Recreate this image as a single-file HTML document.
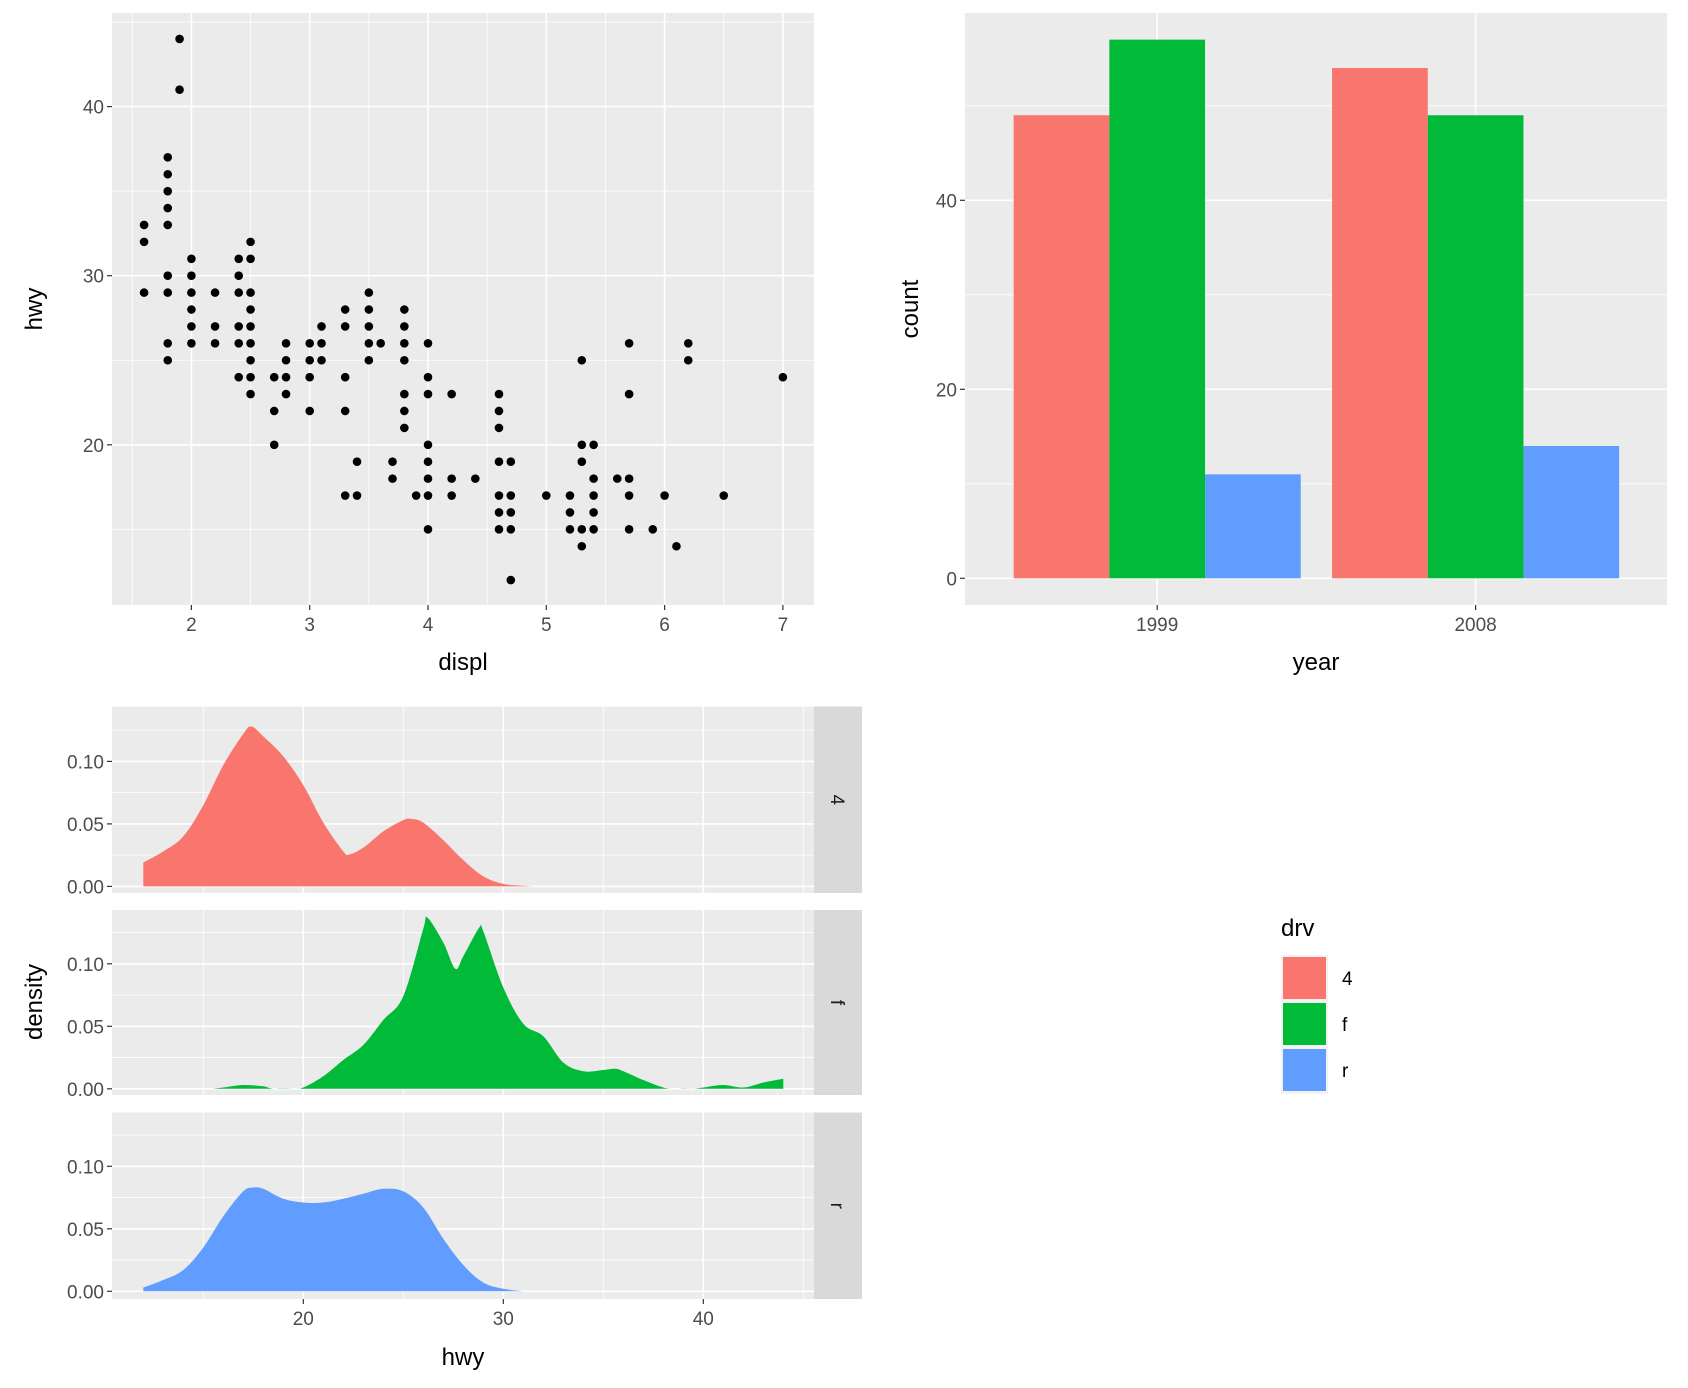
<!DOCTYPE html>
<html><head><meta charset="utf-8"><style>
body{margin:0;background:#fff}
svg{display:block;font-family:"Liberation Sans",Arial,sans-serif}
</style></head><body>
<svg id="c" width="1688" height="1388" viewBox="0 0 1688 1388" xmlns="http://www.w3.org/2000/svg"></svg>
<script>
// ---- scatter data ----
const scatterDispl = [1.6,1.6,1.6,1.8,1.8,1.8,1.8,1.8,1.8,1.8,1.8,1.8,1.9,1.9,2,2,2,2,2,2,2.2,2.2,2.2,2.4,2.4,2.4,2.4,2.4,2.4,2.5,2.5,2.5,2.5,2.5,2.5,2.5,2.5,2.5,2.7,2.7,2.7,2.8,2.8,2.8,2.8,3,3,3,3,3.1,3.1,3.1,3.3,3.3,3.3,3.3,3.3,3.4,3.4,3.5,3.5,3.5,3.5,3.5,3.6,3.7,3.7,3.8,3.8,3.8,3.8,3.8,3.8,3.8,3.9,4,4,4,4,4,4,4,4,4.2,4.2,4.2,4.4,4.6,4.6,4.6,4.6,4.6,4.6,4.6,4.7,4.7,4.7,4.7,4.7,5,5.2,5.2,5.2,5.3,5.3,5.3,5.3,5.3,5.4,5.4,5.4,5.4,5.4,5.6,5.7,5.7,5.7,5.7,5.7,5.9,6,6.1,6.2,6.2,6.5,7];
const scatterHwy = [33,32,29,37,36,35,34,33,30,29,26,25,44,41,31,30,29,28,27,26,29,27,26,31,30,29,27,26,24,32,31,29,28,27,26,25,24,23,24,22,20,26,25,24,23,26,25,24,22,27,26,25,28,27,24,22,17,19,17,29,28,27,26,25,26,19,18,28,27,26,25,23,22,21,17,26,24,23,20,19,18,17,15,23,18,17,18,23,22,21,19,17,16,15,19,17,16,15,12,17,17,16,15,25,20,19,15,14,20,18,17,16,15,18,26,23,18,17,15,15,17,14,26,25,17,24];
const scatterXTicks = [2,3,4,5,6,7];
const scatterYTicks = [20,30,40];
// ---- bar data ----
const barYears = ["1999","2008"];
const barDrv = ["4","f","r"];
const barCounts4 = [49,54];
const barCountsF = [57,49];
const barCountsR = [11,14];
const barYTicks = [0,20,40];
// ---- density data ----
const dens4X = [12,13,14,15,16,17,17.4,18,19,20,21,22,22.3,23,24,25,25.4,26,27,28,29,30,31,31.5];
const dens4Y = [0.019,0.028,0.040,0.065,0.097,0.122,0.128,0.120,0.104,0.081,0.051,0.028,0.0255,0.031,0.044,0.053,0.054,0.051,0.037,0.021,0.008,0.002,0.0005,0];
const densFX = [15.5,16,17,18,18.5,19.5,20,21,22,23,24,25,26,26.2,27,27.6,28,28.8,29,30,31,32,33,34,35,35.6,36,37,38,38.5,39.5,40,41,42,43,44];
const densFY = [0,0.001,0.003,0.002,0,0,0.001,0.010,0.023,0.035,0.055,0.074,0.128,0.137,0.117,0.096,0.106,0.129,0.126,0.081,0.052,0.042,0.021,0.014,0.015,0.016,0.014,0.007,0.001,0,0,0.001,0.003,0.001,0.005,0.008];
const densRX = [12,13,14,15,16,17,17.5,18,19,20,21,22,23,24,25,26,27,28,29,30,31];
const densRY = [0.003,0.009,0.017,0.035,0.060,0.080,0.083,0.082,0.074,0.071,0.071,0.074,0.078,0.082,0.080,0.067,0.042,0.021,0.007,0.002,0];
const densXTicks = [20,30,40];
const densYTicks = [0,0.05,0.10];
const densYLabels = ["0.00","0.05","0.10"];
const COLS = ["#F8766D","#00BA38","#619CFF"];

const svg = document.getElementById('c');
const NS = "http://www.w3.org/2000/svg";
function mk(tag, attrs, parent){const e=document.createElementNS(NS,tag);for(const k in attrs)e.setAttribute(k,attrs[k]);(parent||svg).appendChild(e);return e;}
function txt(s, attrs, parent){const e=mk('text',attrs,parent);e.textContent=s;return e;}

// ===== Scatter =====
(function(){
  const L=112,R=814,T=13,B=605;
  const sx=d=>191.4+(d-2)*118.3, sy=h=>444.8-(h-20)*16.91;
  const g=mk('g',{});
  
  
  const bg=mk('rect',{x:L,y:T,width:R-L,height:B-T,fill:'#EBEBEB'},g);
  
  
  for(let v=1.5;v<=7.5;v+=1){const x=sx(v);if(x>L&&x<R)mk('line',{x1:x,x2:x,y1:T,y2:B,stroke:'#fff','stroke-width':0.8},g);}
  for(let v=15;v<=45;v+=10){const y=sy(v);if(y>T&&y<B)mk('line',{x1:L,x2:R,y1:y,y2:y,stroke:'#fff','stroke-width':0.8},g);}
  scatterXTicks.forEach(v=>{const x=sx(v);mk('line',{x1:x,x2:x,y1:T,y2:B,stroke:'#fff','stroke-width':1.6},g);mk('line',{x1:x,x2:x,y1:B,y2:B+5,stroke:'#333','stroke-width':1.2},g);
    const t=txt(String(v),{x:x,y:B+26,'font-size':19,fill:'#4D4D4D','text-anchor':'middle'},g);});
  scatterYTicks.forEach(v=>{const y=sy(v);mk('line',{x1:L,x2:R,y1:y,y2:y,stroke:'#fff','stroke-width':1.6},g);mk('line',{x1:L-5,x2:L,y1:y,y2:y,stroke:'#333','stroke-width':1.2},g);
    const t=txt(String(v),{x:L-8,y:y+7,'font-size':19,fill:'#4D4D4D','text-anchor':'end'},g);});
  scatterDispl.forEach((d,i)=>{const c=mk('circle',{cx:sx(d),cy:sy(scatterHwy[i]),r:4.3,fill:'#000'},g);});
  const xt=txt('displ',{x:(L+R)/2,y:670,'font-size':24,'text-anchor':'middle'},g);
  const yt=txt('hwy',{x:0,y:0,'font-size':24,'text-anchor':'middle',transform:`translate(42,${(T+B)/2}) rotate(-90)`},g);
})();

// ===== Bars =====
(function(){
  const L=965,R=1667,T=13,B=605;
  const sy=v=>578.3-v*9.45;
  const centers=[1157.2,1475.6], bw=95.7;
  const g=mk('g',{});
  
  
  const bg=mk('rect',{x:L,y:T,width:R-L,height:B-T,fill:'#EBEBEB'},g);
  
  
  [10,30,50].forEach(v=>{const y=sy(v);mk('line',{x1:L,x2:R,y1:y,y2:y,stroke:'#fff','stroke-width':0.8},g);});
  barYTicks.forEach(v=>{const y=sy(v);mk('line',{x1:L,x2:R,y1:y,y2:y,stroke:'#fff','stroke-width':1.6},g);mk('line',{x1:L-5,x2:L,y1:y,y2:y,stroke:'#333','stroke-width':1.2},g);
    const t=txt(String(v),{x:L-8,y:y+7,'font-size':19,fill:'#4D4D4D','text-anchor':'end'},g);});
  barYears.forEach((yr,i)=>{const x=centers[i];mk('line',{x1:x,x2:x,y1:T,y2:B,stroke:'#fff','stroke-width':1.6},g);mk('line',{x1:x,x2:x,y1:B,y2:B+5,stroke:'#333','stroke-width':1.2},g);
    const t=txt(yr,{x:x,y:B+26,'font-size':19,fill:'#4D4D4D','text-anchor':'middle'},g);});
  const series=[barCounts4,barCountsF,barCountsR];
  series.forEach((arr,s)=>arr.forEach((v,i)=>{const x=centers[i]-1.5*bw+s*bw;const r=mk('rect',{x:x,y:sy(v),width:bw,height:sy(0)-sy(v),fill:COLS[s]},g);
    }));
  const xt=txt('year',{x:(L+R)/2,y:670,'font-size':24,'text-anchor':'middle'},g);
  const yt=txt('count',{x:0,y:0,'font-size':24,'text-anchor':'middle',transform:`translate(918,${(T+B)/2}) rotate(-90)`},g);
})();

// ===== Density facets =====
(function(){
  const L=112,R=814,SR=862;
  const panels=[{T:706.5,B:893,z:886.4,lab:'4',xs:dens4X,ys:dens4Y},{T:910,B:1095,z:1088.8,lab:'f',xs:densFX,ys:densFY},{T:1112.5,B:1299,z:1291.3,lab:'r',xs:densRX,ys:densRY}];
  const sx=h=>303.3+(h-20)*20.0;
  const g=mk('g',{});
  
  
  function smooth(pts){ // Catmull-Rom through data points
    let d='';
    for(let i=0;i<pts.length-1;i++){
      const p0=pts[Math.max(0,i-1)],p1=pts[i],p2=pts[i+1],p3=pts[Math.min(pts.length-1,i+2)];
      const c1=[p1[0]+(p2[0]-p0[0])/6,p1[1]+(p2[1]-p0[1])/6];
      const c2=[p2[0]-(p3[0]-p1[0])/6,p2[1]-(p3[1]-p1[1])/6];
      d+=` C${c1[0]},${c1[1]} ${c2[0]},${c2[1]} ${p2[0]},${p2[1]}`;
    }
    return d;
  }
  panels.forEach((p,k)=>{
    const sy=v=>p.z-v*1250;
    const bg=mk('rect',{x:L,y:p.T,width:R-L,height:p.B-p.T,fill:'#EBEBEB'},g);
    
    [15,25,35,45].forEach(v=>{const x=sx(v);if(x<R)mk('line',{x1:x,x2:x,y1:p.T,y2:p.B,stroke:'#fff','stroke-width':0.8},g);});
    [0.025,0.075,0.125].forEach(v=>{const y=sy(v);mk('line',{x1:L,x2:R,y1:y,y2:y,stroke:'#fff','stroke-width':0.8},g);});
    densXTicks.forEach(v=>{const x=sx(v);mk('line',{x1:x,x2:x,y1:p.T,y2:p.B,stroke:'#fff','stroke-width':1.6},g);});
    densYTicks.forEach((v,i)=>{const y=sy(v);mk('line',{x1:L,x2:R,y1:y,y2:y,stroke:'#fff','stroke-width':1.6},g);mk('line',{x1:L-5,x2:L,y1:y,y2:y,stroke:'#333','stroke-width':1.2},g);
      const t=txt(densYLabels[i],{x:L-8,y:y+7,'font-size':19,fill:'#4D4D4D','text-anchor':'end'},g);});
    const pts=p.xs.map((x,i)=>[sx(x),Math.min(sy(0),sy(p.ys[i]))]);
    let d=`M${pts[0][0]},${sy(0)} L${pts[0][0]},${pts[0][1]}`+smooth(pts)+` L${pts[pts.length-1][0]},${sy(0)} Z`;
    const a=mk('path',{d:d,fill:COLS[k]},g);
    
    const st=mk('rect',{x:R,y:p.T,width:SR-R,height:p.B-p.T,fill:'#D9D9D9'},g);
    
    const cy=(p.T+p.B)/2;
    const t=txt(p.lab,{x:0,y:0,'font-size':19,fill:'#1A1A1A','text-anchor':'middle',transform:`translate(${(R+SR)/2-7},${cy}) rotate(90)`},g);
    
  });
  const B=1299;
  densXTicks.forEach(v=>{const x=sx(v);mk('line',{x1:x,x2:x,y1:B,y2:B+5,stroke:'#333','stroke-width':1.2},g);
    const t=txt(String(v),{x:x,y:B+26,'font-size':19,fill:'#4D4D4D','text-anchor':'middle'},g);});
  const xt=txt('hwy',{x:(L+R)/2,y:1365,'font-size':24,'text-anchor':'middle'},g);
  const yt=txt('density',{x:0,y:0,'font-size':24,'text-anchor':'middle',transform:`translate(42,1002) rotate(-90)`},g);
})();

// ===== Legend =====
(function(){
  const g=mk('g',{});
  
  
  const t=txt('drv',{x:1281,y:936,'font-size':24,fill:'#000'},g);
  
  mk('rect',{x:1281,y:955,width:47,height:139,fill:'#F2F2F2'},g);
  barDrv.forEach((lab,i)=>{const y=957+i*46;
    const r=mk('rect',{x:1283,y:y,width:43,height:42,fill:COLS[i]},g);
    
    const l=txt(lab,{x:1342,y:y+28,'font-size':19,fill:'#000'},g);
    });
})();
</script>
</body></html>
